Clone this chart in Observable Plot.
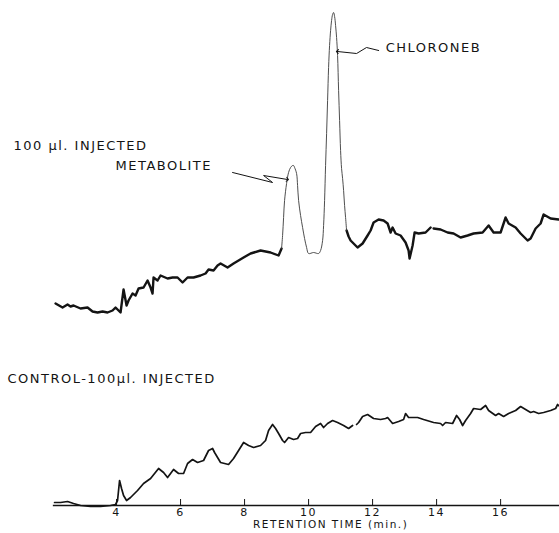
<!DOCTYPE html>
<html>
<head>
<meta charset="utf-8">
<script src="https://cdn.jsdelivr.net/npm/d3@7"></script>
<script src="https://cdn.jsdelivr.net/npm/@observablehq/plot@0.6"></script>
<style>
  html, body { margin: 0; padding: 0; background: #fff; }
  svg text { letter-spacing: 1.5px; }
</style>
</head>
<body>
<script>
// Retention time (min) and detector response (arbitrary units).
// Sample trace: "100 µl. INJECTED"
const sampleTime = [2.094,2.313,2.469,2.563,2.656,2.875,3.094,3.25,3.406,3.563,3.719,3.875,3.969,4.125,4.219,4.313,4.375,4.5,4.594,4.688,4.844,4.969,5.063,5.125,5.156,5.281,5.375,5.594,5.75,5.906,6.063,6.219,6.406,6.625,6.781,6.875,7.031,7.156,7.25,7.469,7.656,7.969,8.188,8.5,8.813,9.063,9.156,
  9.188,9.219,9.25,9.313,9.375,9.438,9.5,9.531,9.563,9.625,9.656,9.688,9.75,9.813,9.875,9.938,10.0,10.156,10.313,10.375,10.438,10.469,10.5,10.531,10.563,10.594,10.625,10.656,10.688,10.719,10.75,10.781,10.813,10.844,10.875,10.906,10.938,10.969,11.0,11.031,11.063,11.094,11.125,11.156,11.188,
  11.25,11.313,11.531,11.688,11.844,11.938,12.031,12.188,12.344,12.469,12.563,12.625,12.719,12.875,13.031,13.125,13.156,13.25,13.313,13.438,13.656,13.813,
  13.906,14.125,14.344,14.531,14.75,14.969,15.156,15.438,15.625,15.781,16.0,16.156,16.25,16.469,16.625,16.844,16.938,17.094,17.25,17.344,17.563,17.813];
const sampleSignal = [202,198,201,199,200,197,198,194,193,194,193,195,198,193,216,200,205,212,210,217,218,225,218,212,228,225,230,227,228,228,223,228,228,230,232,236,235,240,242,238,242,248,252,255,253,250,257,
  270,288,305,322,333,338,340,340,338,332,320,305,290,278,267,258,252,253,252,255,265,280,305,340,372,405,438,460,475,485,491,493,489,480,468,450,415,385,355,337,327,315,300,288,275,
  269,265,258,262,270,275,283,286,285,282,273,278,272,270,263,255,247,260,273,272,273,278,
  277,276,273,272,268,270,272,273,280,273,273,288,282,278,272,265,267,277,282,291,287,286];
// pen segment: "base" = slow pen (heavy stroke), "peak" = fast pen (thin stroke); a new id marks a pen gap
const sampleSegment = [].concat(
  Array(47).fill("base1"), Array(45).fill("peak"), Array(22).fill("base2"), Array(22).fill("base3"));

// Control trace: "CONTROL-100µl. INJECTED"
const controlTime = [2.063,2.25,2.469,2.656,2.875,3.188,3.5,3.813,3.969,4.031,4.094,4.156,4.219,4.313,4.438,4.656,4.844,5.063,5.313,5.469,5.594,5.688,5.781,5.938,6.094,6.219,6.375,6.531,6.719,6.875,7.0,7.063,7.156,7.25,7.5,7.656,7.813,7.969,8.125,8.281,8.5,8.656,8.75,8.875,8.969,9.063,9.188,9.25,9.375,9.531,9.656,9.75,9.906,10.063,10.219,10.375,10.469,10.594,10.75,10.906,11.094,11.25,11.375,
  11.5,11.563,11.688,11.844,12.031,12.25,12.406,12.469,12.625,12.813,12.969,13.031,13.125,13.406,13.594,13.906,14.125,14.188,14.281,14.5,14.625,14.719,14.813,14.906,15.063,15.156,15.375,15.531,15.625,15.844,15.938,16.094,16.25,16.469,16.625,16.781,16.938,17.031,17.188,17.344,17.563,17.719,17.781,17.844];
const controlSignal = [3,3,4,2,0,-1,-1,0,1,5,25,17,10,5,8,15,22,27,37,33,28,32,36,32,32,42,46,43,45,55,57,53,48,43,41,47,55,63,60,58,60,65,75,81,77,72,65,63,68,66,67,72,73,73,79,82,78,82,85,83,80,77,80,
  81,83,89,91,87,86,87,88,82,84,86,92,88,88,86,83,82,80,83,82,90,86,80,85,92,97,96,100,95,90,92,89,92,95,99,96,93,94,92,93,95,97,101,99];
const controlSegment = [].concat(Array(63).fill("c1"), Array(44).fill("c2"));

// x-axis ticks
const tickValues = [4, 6, 8, 10, 12, 14, 16];
const tickLabels = ["4", "6", "8", "10", "12", "14", "16"];
const axisTitle = "RETENTION TIME (min.)";

// annotation texts and anchor positions (data units)
const labelTexts = ["100 µl. INJECTED", "METABOLITE", "CHLORONEB", "CONTROL-100µl. INJECTED"];
const labelTime = [0.78, 3.97, 12.41, 0.59];
const labelSignal = [360, 340, 458, 127];

// arrows (polylines ending in an arrowhead)
const arrowId = ["met", "met", "met", "met", "chl", "chl", "chl", "chl"];
const arrowTime = [7.625, 8.875, 8.594, 9.34, 12.19, 11.81, 11.5, 10.90];
const arrowSignal = [333, 323, 330, 326, 455, 458, 452, 454];

const sample = sampleTime.map((t, i) => ({t, v: sampleSignal[i], seg: sampleSegment[i]}));
const control = controlTime.map((t, i) => ({t, v: controlSignal[i], seg: controlSegment[i]}));
const labels = labelTexts.map((s, i) => ({s, t: labelTime[i], v: labelSignal[i]}));
const arrows = arrowId.map((id, i) => ({id, t: arrowTime[i], v: arrowSignal[i]}));

// heavy-pen segments share their end points with the thin peak segment
const firstPeak = sampleSegment.indexOf("peak");
const lastPeak = sampleSegment.lastIndexOf("peak");
const heavy = sample.filter(d => d.seg !== "peak")
  .concat([{...sample[lastPeak], seg: sampleSegment[lastPeak + 1]}])
  .sort((a, b) => a.t - b.t);
const thin = sample.slice(firstPeak - 1, lastPeak + 1);

const ink = "#141414";
const chart = Plot.plot({
  width: 559,
  height: 533,
  marginLeft: 53,
  marginRight: 0,
  marginTop: 0,
  marginBottom: 28,
  x: {domain: [2.03, 17.84], axis: null},
  y: {domain: [0, 505], axis: null},
  style: {background: "#fff", color: ink, fontFamily: "'DejaVu Sans', sans-serif"},
  marks: [
    Plot.frame({anchor: "bottom", stroke: ink, strokeWidth: 1.3}),
    Plot.ruleX(tickValues, {y1: 0, y2: 6, stroke: ink, strokeWidth: 1}),
    Plot.axisX({ticks: tickValues, tickFormat: d => tickLabels[tickValues.indexOf(d)], tickSize: 0, tickPadding: 3, fontSize: 11, fill: ink, label: null}),
    Plot.text([axisTitle], {x: 10.69, y: -19.5, text: d => d, fontSize: 10.5, fill: ink, textAnchor: "middle", lineAnchor: "middle"}),
    Plot.line(heavy, {x: "t", y: "v", z: "seg", stroke: ink, strokeWidth: 2.4, strokeLinejoin: "round"}),
    Plot.line(thin, {x: "t", y: "v", stroke: "#3a3a3a", strokeWidth: 0.9, curve: "catmull-rom"}),
    Plot.line(control, {x: "t", y: "v", z: "seg", stroke: ink, strokeWidth: 1.7, strokeLinejoin: "round"}),
    Plot.text(labels, {x: "t", y: "v", text: "s", textAnchor: "start", lineAnchor: "middle", fontSize: 13, fill: ink}),
    Plot.line(arrows, {x: "t", y: "v", z: "id", stroke: ink, strokeWidth: 1, markerEnd: "arrow"})
  ]
});
document.body.appendChild(chart);
</script>
</body>
</html>
